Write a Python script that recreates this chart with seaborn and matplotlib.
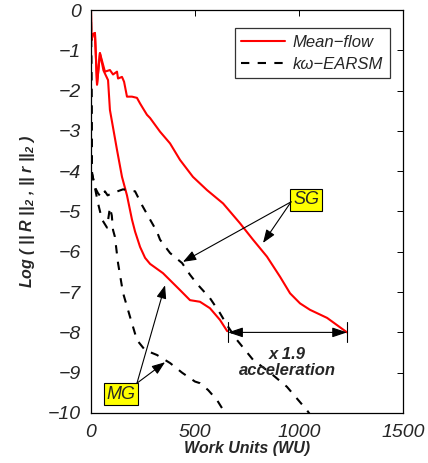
import matplotlib
matplotlib.use("Agg")
import matplotlib.pyplot as plt
import seaborn as sns
import pandas as pd
from matplotlib.lines import Line2D

# ---- data ----
sg_mean_x = [0, 2, 10, 19, 29, 43, 67, 91, 106, 125, 130, 149, 159, 173, 197, 221, 236, 250,
             269, 284, 332, 380, 428, 490, 558, 635, 716, 779, 846, 909, 957, 1005, 1053,
             1135, 1231]
sg_mean_y = [0, -0.75, -0.6, -0.57, -1.85, -1.07, -1.53, -1.49, -1.6, -1.53, -1.7, -1.66, -1.78,
             -2.15, -2.15, -2.18, -2.32, -2.44, -2.6, -2.68, -3.02, -3.31, -3.72, -4.14, -4.47,
             -4.8, -5.29, -5.7, -6.12, -6.62, -7.03, -7.28, -7.44, -7.64, -8.0]

mg_mean_x = [0, 2, 10, 19, 29, 43, 60, 82, 91, 125, 149, 173, 197, 212, 236, 260, 284, 346,
             428, 476, 524, 572, 620, 655]
mg_mean_y = [0, -0.75, -0.6, -0.57, -1.85, -1.07, -1.5, -1.74, -2.48, -3.47, -4.14, -4.6, -5.2,
             -5.5, -5.88, -6.15, -6.3, -6.53, -6.95, -7.2, -7.24, -7.4, -7.69, -7.97]

sg_turb_x = [0, 5, 19, 34, 50, 67, 80, 100, 154, 212, 245, 284, 317, 332, 380, 438, 476, 514,
             572, 620, 654, 702, 779, 861, 942, 1038, 1055]
sg_turb_y = [-0.3, -4.05, -4.4, -4.55, -4.65, -4.5, -4.6, -4.55, -4.45, -4.5, -4.84, -5.2, -5.5,
             -5.7, -6.03, -6.28, -6.57, -6.82, -7.15, -7.52, -7.82, -8.19, -8.68, -9.0, -9.35,
             -9.93, -10.05]

mg_turb_x = [0, 5, 34, 53, 77, 91, 100, 106, 115, 130, 154, 188, 221, 260, 317, 380, 438, 500,
             524, 563, 606, 630, 650]
mg_turb_y = [-0.3, -4.05, -4.8, -5.2, -5.4, -4.9, -5.1, -5.46, -5.63, -6.28, -7.02, -7.62, -8.19,
             -8.44, -8.56, -8.76, -9.0, -9.22, -9.26, -9.43, -9.68, -9.88, -10.05]

legend_labels = ["Mean\u2212flow", "k\u03c9\u2212EARSM"]
x_ticks = [0, 500, 1000, 1500]
y_ticks = list(range(-10, 1))

sns.set_style("white")
plt.rcParams['font.family'] = ['Liberation Sans', 'DejaVu Sans']
plt.rcParams['mathtext.default'] = 'regular'

fig = plt.figure(figsize=(4.28, 4.63), dpi=100)
ax = fig.add_axes([0.2126, 0.108, 0.729, 0.8704])

def draw(x, y, color, ls):
    df = pd.DataFrame({"x": x, "y": y})
    sns.lineplot(data=df, x="x", y="y", ax=ax, color=color, linestyle=ls, lw=1.5,
                 sort=False, estimator=None, legend=False)

draw(sg_mean_x, sg_mean_y, "#ff0000", "-")
draw(mg_mean_x, mg_mean_y, "#ff0000", "-")
draw(sg_turb_x, sg_turb_y, "black", (0, (4, 4)))
draw(mg_turb_x, mg_turb_y, "black", (0, (4, 4)))

ax.set_xlim(0, 1500)
ax.set_ylim(-10, 0)
ax.set_xticks(x_ticks)
ax.set_yticks(y_ticks)
ax.set_xticklabels([str(t) for t in x_ticks], fontsize=14, style='italic')
ax.set_yticklabels([("\u2212" + str(-t)) if t < 0 else str(t) for t in y_ticks], fontsize=14, style='italic')
ax.tick_params(direction='in', top=True, right=True, length=4, width=0.7, color='black')
ax.tick_params(axis='y', pad=7)
ax.tick_params(axis='x', pad=8)
for s in ax.spines.values():
    s.set_color('black')
    s.set_linewidth(0.9)

ax.set_xlabel("Work Units (WU)", fontsize=11.5, fontweight='bold', style='italic', labelpad=0)
ax.set_ylabel("Log ( || R ||$_2$ , || r ||$_2$ )", fontsize=11.5, fontweight='bold',
              style='italic', labelpad=8)

handles = [Line2D([], [], color='#ff0000', lw=1.5),
           Line2D([], [], color='black', lw=1.5, linestyle=(0, (4, 4)))]
leg = ax.legend(handles, legend_labels, loc='upper right', bbox_to_anchor=(0.985, 0.975),
                prop={'style': 'italic', 'size': 12}, frameon=True, fancybox=False,
                edgecolor='black', handlelength=2.6, borderpad=0.4, labelspacing=0.4,
                handletextpad=0.5)
leg.get_frame().set_linewidth(0.9)

box = dict(boxstyle='square,pad=0.15', fc='#ffff00', ec='black', lw=0.8)
arrow = dict(arrowstyle='-|>,head_length=0.8,head_width=0.3', color='black', lw=0.8,
             shrinkA=0, shrinkB=0)

ax.text(1034, -4.71, "SG", fontsize=13, style='italic', ha='center', va='center', bbox=box)
ax.annotate("", xy=(442, -6.25), xytext=(962, -4.76), arrowprops=arrow)
ax.annotate("", xy=(827, -5.78), xytext=(962, -4.76), arrowprops=arrow)

ax.text(144, -9.53, "MG", fontsize=13, style='italic', ha='center', va='center', bbox=box)
ax.annotate("", xy=(356, -6.83), xytext=(221, -9.26), arrowprops=arrow)
ax.annotate("", xy=(356, -8.74), xytext=(221, -9.26), arrowprops=arrow)

ax.annotate("", xy=(659, -8.0), xytext=(1231, -8.0),
            arrowprops=dict(arrowstyle='<|-|>,head_length=0.9,head_width=0.3', color='black',
                            lw=0.8, shrinkA=0, shrinkB=0))
ax.plot([659, 659], [-7.75, -8.25], color='black', lw=0.8)
ax.plot([1231, 1231], [-7.75, -8.25], color='black', lw=0.8)
ax.text(945, -8.75, "x 1.9\nacceleration", fontsize=12, fontweight='bold', style='italic',
        ha='center', va='center', linespacing=1.1)

fig.savefig("out.png", dpi=100)
